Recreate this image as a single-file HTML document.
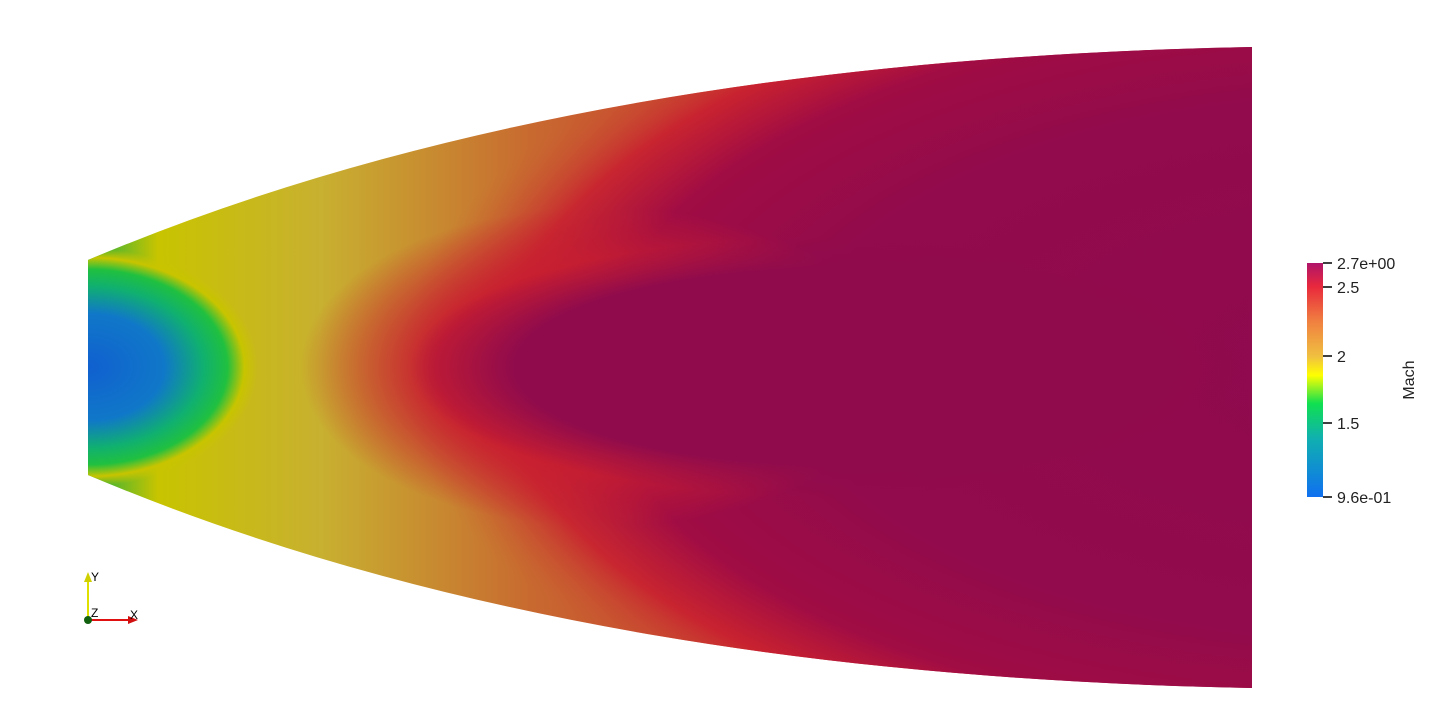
<!DOCTYPE html>
<html><head><meta charset="utf-8"><style>
html,body{margin:0;padding:0;background:#fff;width:1436px;height:709px;overflow:hidden}
svg{display:block;font-family:"Liberation Sans",sans-serif}
</style></head><body>
<svg width="1436" height="709" viewBox="0 0 1436 709">
<defs>
<clipPath id="noz"><path d="M88,260 Q560,60 1252,47 L1252,688 Q560,675 88,475 Z"/></clipPath>
<radialGradient id="redfade" cx="0.5" cy="0.5" r="0.5">
<stop offset="0" stop-color="#c81e30"/><stop offset="0.55" stop-color="#c81e30"/>
<stop offset="1" stop-color="#c81e30" stop-opacity="0"/></radialGradient>
<radialGradient id="crimfade" cx="0.5" cy="0.5" r="0.5">
<stop offset="0" stop-color="#900b4c"/><stop offset="0.75" stop-color="#900b4c"/>
<stop offset="1" stop-color="#900b4c" stop-opacity="0"/></radialGradient>
<linearGradient id="base" x1="88" y1="0" x2="1252" y2="0" gradientUnits="userSpaceOnUse">
<stop offset="0" stop-color="#20b040"/><stop offset="0.06" stop-color="#c8c400"/>
<stop offset="0.2" stop-color="#c8b030"/><stop offset="0.38" stop-color="#c86a30"/>
<stop offset="0.55" stop-color="#c83a30"/><stop offset="0.75" stop-color="#c01e34"/>
<stop offset="1" stop-color="#a0103e"/></linearGradient>
<radialGradient id="core" cx="1400" cy="367" r="1000" gradientUnits="userSpaceOnUse" gradientTransform="translate(1400 367) scale(1 0.45) translate(-1400 -367)">
<stop offset="0" stop-color="#8e0a4e"/><stop offset="0.6" stop-color="#920b4c"/>
<stop offset="0.8" stop-color="#a00c44"/><stop offset="0.9" stop-color="#c81e30" stop-opacity="0.85"/>
<stop offset="1" stop-color="#c86030" stop-opacity="0"/></radialGradient>
<radialGradient id="lens" cx="88" cy="367" r="170" gradientUnits="userSpaceOnUse" gradientTransform="translate(88 367) scale(1 0.7) translate(-88 -367)">
<stop offset="0" stop-color="#1060d0"/><stop offset="0.45" stop-color="#1078c8"/>
<stop offset="0.68" stop-color="#10b070"/><stop offset="0.82" stop-color="#20c040"/>
<stop offset="0.92" stop-color="#c8c400"/>
<stop offset="1" stop-color="#c8c400" stop-opacity="0"/></radialGradient>
<linearGradient id="cbar" x1="0" y1="1" x2="0" y2="0">
<stop offset="0" stop-color="#1070f0"/><stop offset="0.25" stop-color="#10b0b0"/>
<stop offset="0.4" stop-color="#10e050"/><stop offset="0.52" stop-color="#ffff00"/>
<stop offset="0.6" stop-color="#f0c040"/><stop offset="0.75" stop-color="#f08040"/>
<stop offset="0.9" stop-color="#e8283c"/><stop offset="1" stop-color="#b0146a"/></linearGradient>
</defs>
<g clip-path="url(#noz)">
<rect x="80" y="40" width="1180" height="660" fill="url(#base)"/>
<rect x="80" y="40" width="1180" height="660" fill="url(#core)"/>
<ellipse cx="600" cy="367" rx="300" ry="160" fill="url(#redfade)"/>
<ellipse cx="830" cy="367" rx="420" ry="130" fill="url(#crimfade)"/>
<rect x="80" y="40" width="1180" height="660" fill="url(#lens)"/>
</g>
<g>
<rect x="1307" y="263" width="16" height="234" fill="url(#cbar)"/>
<g stroke="#000" stroke-width="1.5">
<line x1="1323" y1="263" x2="1332" y2="263"/><line x1="1323" y1="287" x2="1332" y2="287"/>
<line x1="1323" y1="356" x2="1332" y2="356"/><line x1="1323" y1="423" x2="1332" y2="423"/>
<line x1="1323" y1="497" x2="1332" y2="497"/></g>
<g font-size="16" fill="#222">
<text x="1337" y="269">2.7e+00</text><text x="1337" y="293">2.5</text>
<text x="1337" y="362">2</text><text x="1337" y="429">1.5</text><text x="1337" y="503">9.6e-01</text></g>
<text x="1414" y="380" font-size="16" fill="#222" text-anchor="middle" transform="rotate(-90 1414 380)">Mach</text>
</g>
<g>
<line x1="88" y1="620" x2="88" y2="578" stroke="#e0e000" stroke-width="2"/>
<polygon points="84,582 92,582 88,572" fill="#d0d000"/>
<line x1="88" y1="620" x2="130" y2="620" stroke="#e01010" stroke-width="2"/>
<polygon points="128,616 128,624 138,620" fill="#d01010"/>
<circle cx="88" cy="620" r="4" fill="#106010"/>
<g font-size="12" fill="#000"><text x="91" y="581">Y</text><text x="130" y="619">X</text><text x="91" y="617">Z</text></g>
</g>
</svg>
</body></html>
